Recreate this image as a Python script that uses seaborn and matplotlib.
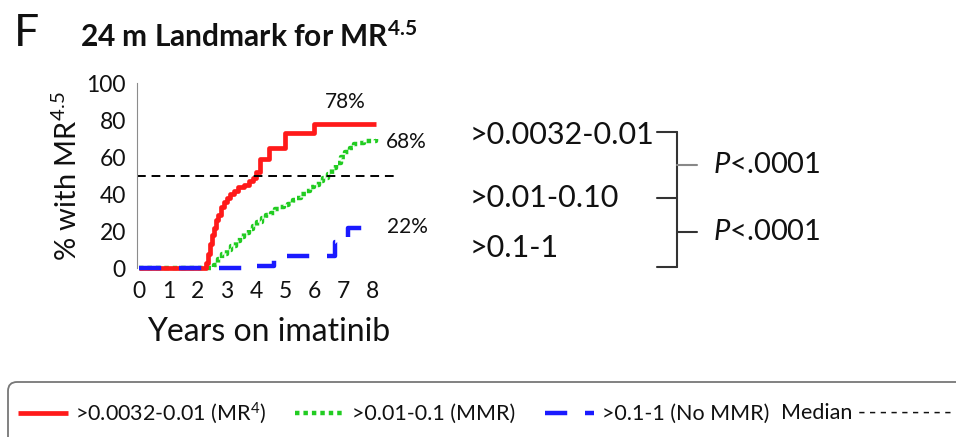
import matplotlib
matplotlib.use('Agg')
import matplotlib.pyplot as plt
from matplotlib.lines import Line2D
from matplotlib.patches import FancyBboxPatch
import seaborn as sns

# step curves (years on imatinib, % with MR4.5)
red_t = [0, 2.3, 2.35, 2.42, 2.48, 2.55, 2.62, 2.7, 2.8, 2.9, 3.0, 3.1, 3.25, 3.4, 3.6, 3.75, 3.9, 4.0, 4.15, 4.45, 5.0, 6.0, 8.1]
red_v = [0, 3, 8, 13, 18, 22, 26, 29, 33, 36, 38, 40, 42, 44, 45, 47, 49, 52, 59, 65, 73, 78, 78]

green_t = [0, 2.45, 2.55, 2.7, 2.85, 3.0, 3.15, 3.3, 3.45, 3.6, 3.75, 3.9, 4.05, 4.2, 4.35, 4.5, 4.65, 4.8,
           4.95, 5.1, 5.25, 5.4, 5.55, 5.7, 5.85, 6.0, 6.15, 6.3, 6.45, 6.6, 6.75, 6.9, 7.05, 7.2, 7.35, 7.5, 7.7, 8.1]
green_v = [0, 0, 2, 5, 8, 10, 12, 15, 17, 19, 21, 23, 25, 27, 29, 30, 32, 33,
           34, 35, 37, 38, 40, 42, 44, 45, 47, 49, 51, 54, 57, 60, 63, 65, 67, 68, 69, 70]

blue_t = [0, 4.0, 4.6, 6.7, 7.15, 8.1]
blue_v = [0, 1.5, 6.5, 14, 22, 22]

end_labels = ['78%', '68%', '22%']
end_pos = [(7.04, 90, 'center'), (8.44, 68, 'left'), (8.49, 22.5, 'left')]

groups = ['>0.0032-0.01', '>0.01-0.10', '>0.1-1']
pvals = ['$\\it{P}$<.0001', '$\\it{P}$<.0001']
legend_labels = ['>0.0032-0.01 (MR$^{\\mathregular{4}}$)', '>0.01-0.1 (MMR)', '>0.1-1 (No MMR)']
median_label = 'Median ' + '\u2009'.join(['-'] * 9)

sns.set_style('white')
plt.rcParams['font.family'] = ['Lato', 'DejaVu Sans']
plt.rcParams['mathtext.fontset'] = 'custom'
plt.rcParams['mathtext.rm'] = 'Lato'
plt.rcParams['mathtext.it'] = 'Lato:italic'
plt.rcParams['mathtext.bf'] = 'Lato:bold'

TXT = '#111111'
W, H = 956, 437
fig = plt.figure(figsize=(W / 100, H / 100), dpi=100)


def fx(px):
    return px / W


def fy(py):
    return 1 - py / H


ax = fig.add_axes([fx(137), fy(268.3), fx(399.3) - fx(137), fy(83.3) - fy(268.3)])

sns.lineplot(x=green_t, y=green_v, ax=ax, color='#22cc22', lw=3.2, drawstyle='steps-post',
             estimator=None, sort=False)
sns.lineplot(x=red_t, y=red_v, ax=ax, color='#ff1a1a', lw=3.4, drawstyle='steps-post',
             estimator=None, sort=False)
sns.lineplot(x=blue_t, y=blue_v, ax=ax, color='#1a1aff', lw=3.2, drawstyle='steps-post',
             estimator=None, sort=False)
green_line, red_line, blue_line = ax.lines[0], ax.lines[1], ax.lines[2]
green_line.set_dashes((1.0, 0.9))
blue_line.set_dashes((5, 4))
for ln in ax.lines:
    ln.set_clip_on(False)
    ln.set_solid_capstyle('butt')

ax.axhline(50, color='black', lw=1.4, dashes=(4.5, 3))

ax.set_xlim(-0.07, 8.9)
ax.set_ylim(0, 100)
ax.set_xticks(range(0, 9))
ax.set_yticks(range(0, 101, 20))
ax.tick_params(axis='both', labelsize=16.5, colors='#999999', labelcolor=TXT, length=3, width=1)
ax.tick_params(axis='x', pad=6)
ax.tick_params(axis='y', pad=5)
for s in ['top', 'right', 'bottom']:
    ax.spines[s].set_visible(False)
ax.spines['left'].set_color('#8c8c8c')
ax.set_xlabel('Years on imatinib', fontsize=23, color=TXT, labelpad=11)
ax.set_ylabel('% with MR$^{\\mathregular{4.5}}$', fontsize=21, color=TXT, labelpad=3)

for lab, (x, y, ha) in zip(end_labels, end_pos):
    ax.text(x, y, lab, fontsize=15, color=TXT, ha=ha, va='center', clip_on=False)

# panel letter and title
fig.text(fx(14), fy(33), 'F', fontsize=32, color=TXT, va='center', ha='left')
fig.text(fx(80), fy(37), '24 m Landmark for MR$^{\\mathregular{4.5}}$', fontsize=21.5,
         fontweight='bold', color=TXT, va='center', ha='left')

# group labels with comparison bracket
for lab, py in zip(groups, [135, 198, 248]):
    fig.text(fx(470), fy(py), lab, fontsize=22, color=TXT, va='center', ha='left')
br = '#333333'
segs = [((657, 677), (131.7, 131.7), br), ((677, 677), (131.7, 266.7), br),
        ((657, 677), (198.3, 198.3), br), ((657, 677), (266.7, 266.7), br),
        ((677, 697), (165, 165), '#888888'), ((677, 697), (231.7, 231.7), br)]
for xs, ys, c in segs:
    fig.add_artist(Line2D([fx(xs[0]), fx(xs[1])], [fy(ys[0]), fy(ys[1])], color=c, lw=1.5,
                          transform=fig.transFigure))
for lab, py in zip(pvals, [165, 232]):
    fig.text(fx(713), fy(py), lab, fontsize=21, color=TXT, va='center', ha='left')

# legend box at the bottom
box = FancyBboxPatch((0.08, -0.1), 9.7, 0.65, boxstyle='round,pad=0,rounding_size=0.09',
                     transform=fig.dpi_scale_trans, facecolor='white', edgecolor='#777777', lw=1.3)
fig.add_artist(box)
leg = fig.legend([red_line, green_line, blue_line], legend_labels, loc='center left',
                 bbox_to_anchor=(fx(18), fy(413)), ncol=3, frameon=False, fontsize=15.5,
                 handlelength=2.3, handletextpad=0.35, columnspacing=1.35, borderaxespad=0,
                 borderpad=0)
for t in leg.get_texts():
    t.set_color(TXT)
fig.text(fx(781), fy(413), median_label, fontsize=15.5, color=TXT, va='center', ha='left')

fig.savefig('out.png', dpi=100)
